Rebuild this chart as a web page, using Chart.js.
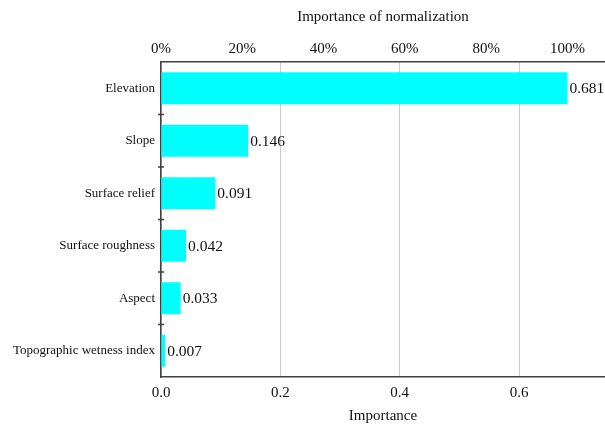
<!DOCTYPE html>
<html>
<head>
<meta charset="utf-8">
<script src="https://cdn.jsdelivr.net/npm/chart.js@4"></script>
<style>
    html, body { margin: 0; padding: 0; background: #fff; }
    #wrap { width: 605px; height: 428px; }
</style>
</head>
<body>
<div id="wrap"><canvas id="barChart" width="605" height="428"></canvas></div>
<script>
// feature importance data
const categories = ['Elevation', 'Slope', 'Surface relief', 'Surface roughness', 'Aspect', 'Topographic wetness index'];
const importance = [0.681, 0.146, 0.091, 0.042, 0.033, 0.007];
const importanceTicks = [0, 0.2, 0.4, 0.6];
const percentTicks = [0, 20, 40, 60, 80, 100];

const serif = 'Liberation Serif';
const axisColor = '#404040';
const maxImportance = Math.max(...importance);

// value labels at the end of each bar
const valueLabels = {
    id: 'valueLabels',
    afterDatasetsDraw(chart) {
        const ctx = chart.ctx;
        const meta = chart.getDatasetMeta(0);
        ctx.save();
        ctx.font = '15.5px "' + serif + '"';
        ctx.fillStyle = '#111';
        ctx.textAlign = 'left';
        ctx.textBaseline = 'middle';
        meta.data.forEach((bar, i) => {
            ctx.fillText(importance[i].toFixed(3), bar.x + 2, bar.y + 1);
        });
        ctx.restore();
    }
};

// small cross ticks between categories on the left axis
const crossTicks = {
    id: 'crossTicks',
    afterDraw(chart) {
        const y = chart.scales.y;
        const ctx = chart.ctx;
        const left = chart.chartArea.left;
        ctx.save();
        ctx.strokeStyle = axisColor;
        ctx.lineWidth = 1.5;
        for (let i = 1; i < categories.length; i++) {
            const py = (y.getPixelForValue(i - 1) + y.getPixelForValue(i)) / 2;
            ctx.beginPath();
            ctx.moveTo(left - 3, py);
            ctx.lineTo(left + 3, py);
            ctx.stroke();
        }
        ctx.restore();
    }
};

const ctx = document.getElementById('barChart').getContext('2d');
const barChart = new Chart(ctx, {
    type: 'bar',
    data: {
        labels: categories,
        datasets: [{
            data: importance,
            backgroundColor: '#00ffff',
            borderWidth: 0,
            barPercentage: 0.61,
            categoryPercentage: 1
        }]
    },
    options: {
        indexAxis: 'y',
        responsive: false,
        animation: false,
        layout: { padding: 0 },
        plugins: {
            legend: { display: false },
            tooltip: { enabled: false }
        },
        scales: {
            y: {
                afterFit: (scale) => { scale.width = 161; },
                border: { color: axisColor, width: 1.5 },
                grid: {
                    drawOnChartArea: false,
                    drawTicks: false
                },
                ticks: {
                    color: '#111',
                    padding: 6,
                    font: { family: serif, size: 13 }
                }
            },
            x: {
                position: 'bottom',
                min: 0,
                max: 0.744,
                afterBuildTicks: (scale) => {
                    scale.ticks = importanceTicks.map(v => ({ value: v }));
                },
                afterFit: (scale) => { scale.height = 51; },
                border: { color: axisColor, width: 1.5 },
                grid: {
                    color: '#cccccc',
                    lineWidth: 1,
                    drawTicks: false
                },
                ticks: {
                    color: '#111',
                    padding: 7,
                    font: { family: serif, size: 15 },
                    callback: (v) => Number(v).toFixed(1)
                },
                title: {
                    display: true,
                    text: 'Importance',
                    color: '#111',
                    padding: { top: 0, bottom: 3 },
                    font: { family: serif, size: 15 }
                }
            },
            x2: {
                axis: 'x',
                position: 'top',
                min: 0,
                max: 0.744,
                afterBuildTicks: (scale) => {
                    scale.ticks = percentTicks.map(p => ({ value: p / 100 * maxImportance }));
                },
                afterFit: (scale) => { scale.height = 62; },
                border: { color: axisColor, width: 1.5 },
                grid: { display: false, drawTicks: false },
                ticks: {
                    color: '#111',
                    padding: 4,
                    font: { family: serif, size: 15 },
                    callback: (v, i) => percentTicks[i] + '%'
                },
                title: {
                    display: true,
                    text: 'Importance of normalization',
                    color: '#111',
                    padding: { top: 8, bottom: 0 },
                    font: { family: serif, size: 15 }
                }
            }
        }
    },
    plugins: [valueLabels, crossTicks]
});
</script>
</body>
</html>
